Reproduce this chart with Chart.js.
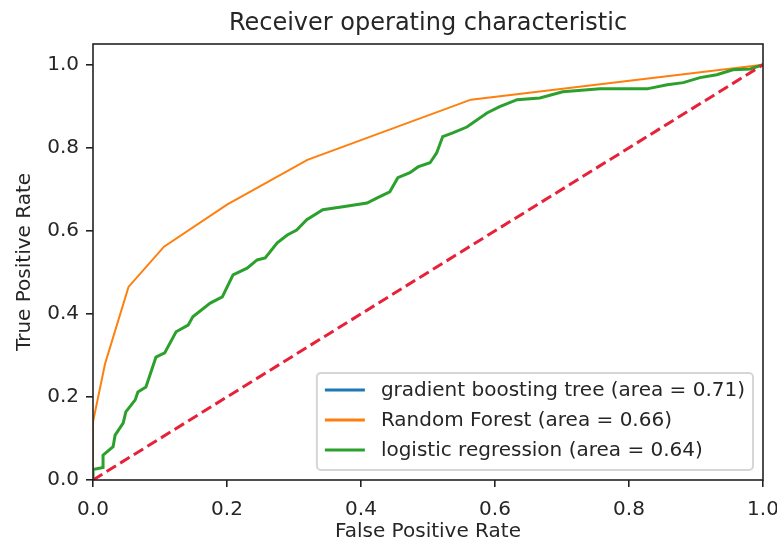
<!DOCTYPE html>
<html>
<head>
<meta charset="utf-8">
<script src="https://cdn.jsdelivr.net/npm/chart.js@4.4.1/dist/chart.umd.min.js"></script>
<style>
    html, body { margin: 0; padding: 0; background: #fff; }
    #wrap { width: 777px; height: 544px; }
</style>
</head>
<body>
<div id="wrap"><canvas id="rocChart"></canvas></div>
<script>
const xTicks = [0, 0.2, 0.4, 0.6, 0.8, 1.0];
const yTicks = [0, 0.2, 0.4, 0.6, 0.8, 1.0];

// gradient boosting tree: no visible line in the picture
const gbtFpr = [];
const gbtTpr = [];

const rfFpr = [0, 0, 0.018, 0.053, 0.106, 0.2, 0.32, 0.564, 1];
const rfTpr = [0, 0.14, 0.28, 0.465, 0.562, 0.663, 0.771, 0.916, 1];

const lrFpr = [0, 0, 0.015, 0.015, 0.03, 0.033, 0.045, 0.049, 0.063, 0.067, 0.079, 0.085, 0.094, 0.107,
    0.124, 0.142, 0.149, 0.175, 0.193, 0.209, 0.23, 0.245, 0.257, 0.275, 0.29, 0.304, 0.319, 0.343,
    0.373, 0.409, 0.425, 0.443, 0.455, 0.473, 0.485, 0.503, 0.513, 0.522, 0.537, 0.558, 0.588, 0.607,
    0.633, 0.667, 0.701, 0.757, 0.827, 0.857, 0.881, 0.906, 0.931, 0.955, 0.981, 1];
const lrTpr = [0, 0.025, 0.03, 0.06, 0.08, 0.108, 0.137, 0.164, 0.193, 0.212, 0.224, 0.253, 0.296, 0.306,
    0.357, 0.373, 0.393, 0.426, 0.441, 0.494, 0.51, 0.53, 0.535, 0.571, 0.59, 0.602, 0.627, 0.651,
    0.658, 0.667, 0.68, 0.694, 0.728, 0.74, 0.754, 0.764, 0.788, 0.827, 0.836, 0.85, 0.884, 0.899,
    0.916, 0.92, 0.935, 0.942, 0.942, 0.952, 0.957, 0.969, 0.976, 0.988, 0.99, 1];

const chanceFpr = [0, 1];
const chanceTpr = [0, 1];

const labels = [
    'gradient boosting tree (area = 0.71)',
    'Random Forest (area = 0.66)',
    'logistic regression (area = 0.64)'
];

function toPoints(xs, ys) {
    return xs.map((x, i) => ({ x: x, y: ys[i] }));
}

const FONT = 'DejaVu Sans';
const INK = '#262626';

// spines on all four sides
const framePlugin = {
    id: 'frame',
    afterDraw(chart) {
        const { ctx, chartArea: a } = chart;
        ctx.save();
        ctx.strokeStyle = '#222';
        ctx.lineWidth = 1.6;
        ctx.strokeRect(a.left, a.top, a.right - a.left, a.bottom - a.top);
        ctx.restore();
    }
};

// matplotlib style legend in the lower right corner of the axes
const boxLegendPlugin = {
    id: 'boxLegend',
    afterDraw(chart) {
        const { ctx, chartArea: a } = chart;
        const items = chart.data.datasets.filter(d => d.label);
        ctx.save();
        ctx.font = '20px "' + FONT + '"';
        const textW = Math.max(...items.map(d => ctx.measureText(d.label).width));
        const w = 8 + 40 + 16 + textW + 8;
        const h = 97;
        const right = a.right - 10;
        const bottom = a.bottom - 10;
        const left = right - w;
        const top = bottom - h;

        ctx.beginPath();
        ctx.roundRect(left, top, w, h, 4);
        ctx.fillStyle = 'rgba(255,255,255,0.8)';
        ctx.fill();
        ctx.strokeStyle = 'rgba(204,204,204,0.8)';
        ctx.lineWidth = 2;
        ctx.stroke();

        items.forEach((d, i) => {
            const cy = top + 17 + i * 30;
            ctx.beginPath();
            ctx.moveTo(left + 8, cy);
            ctx.lineTo(left + 48, cy);
            ctx.strokeStyle = d.borderColor;
            ctx.lineWidth = 3;
            ctx.stroke();
            ctx.fillStyle = INK;
            ctx.textBaseline = 'middle';
            ctx.textAlign = 'left';
            ctx.fillText(d.label, left + 64, cy + 1);
        });
        ctx.restore();
    }
};

document.addEventListener('DOMContentLoaded', function () {
    Chart.defaults.font.family = FONT;
    Chart.defaults.color = INK;

    const ctx = document.getElementById('rocChart');

    new Chart(ctx, {
        type: 'line',
        data: {
            datasets: [
                {
                    label: labels[0],
                    data: toPoints(gbtFpr, gbtTpr),
                    borderColor: '#1f77b4',
                    borderWidth: 3,
                    order: 3
                },
                {
                    label: labels[1],
                    data: toPoints(rfFpr, rfTpr),
                    borderColor: '#ff7f0e',
                    borderWidth: 2,
                    order: 2
                },
                {
                    label: labels[2],
                    data: toPoints(lrFpr, lrTpr),
                    borderColor: '#2ca02c',
                    borderWidth: 3,
                    order: 1
                },
                {
                    label: '',
                    data: toPoints(chanceFpr, chanceTpr),
                    borderColor: '#e8213a',
                    borderWidth: 3,
                    borderDash: [11, 5],
                    order: 0
                }
            ]
        },
        options: {
            responsive: true,
            maintainAspectRatio: false,
            animation: false,
            layout: { padding: { left: 0, right: 14, top: 0, bottom: 0 } },
            elements: {
                point: { radius: 0 },
                line: { tension: 0, fill: false, borderCapStyle: 'butt' }
            },
            plugins: {
                legend: { display: false },
                tooltip: { enabled: false }
            },
            scales: {
                // top axis only carries the title, centred over the plot area
                top: {
                    type: 'linear',
                    position: 'top',
                    min: 0,
                    max: 1,
                    afterFit: s => { s.height = 44; s.paddingLeft = 0; s.paddingRight = 0; },
                    grid: { display: false },
                    border: { display: false },
                    ticks: { display: false },
                    title: {
                        display: true,
                        text: 'Receiver operating characteristic',
                        font: { size: 24 },
                        color: INK,
                        padding: { top: 9, bottom: 0 }
                    }
                },
                x: {
                    type: 'linear',
                    position: 'bottom',
                    min: 0,
                    max: 1,
                    afterBuildTicks: s => { s.ticks = xTicks.map(v => ({ value: v })); },
                    afterFit: s => { s.height = 64; s.paddingLeft = 0; s.paddingRight = 0; },
                    grid: { drawOnChartArea: false, drawTicks: true, tickLength: 7, color: '#222', lineWidth: 1.6 },
                    border: { display: false },
                    ticks: {
                        font: { size: 20 },
                        padding: 11,
                        maxRotation: 0,
                        callback: v => v.toFixed(1)
                    },
                    title: {
                        display: true,
                        text: 'False Positive Rate',
                        font: { size: 20 },
                        padding: { top: 0, bottom: 0 }
                    }
                },
                y: {
                    type: 'linear',
                    min: 0,
                    max: 1.05,
                    afterBuildTicks: s => { s.ticks = yTicks.map(v => ({ value: v })); },
                    afterFit: s => { s.width = 93; },
                    grid: { drawOnChartArea: false, drawTicks: true, tickLength: 7, color: '#222', lineWidth: 1.6 },
                    border: { display: false },
                    ticks: {
                        font: { size: 20 },
                        padding: 7,
                        callback: v => v.toFixed(1)
                    },
                    title: {
                        display: true,
                        text: 'True Positive Rate',
                        font: { size: 20 },
                        padding: { top: 13, bottom: 0 }
                    }
                }
            }
        },
        plugins: [framePlugin, boxLegendPlugin]
    });
});
</script>
</body>
</html>
